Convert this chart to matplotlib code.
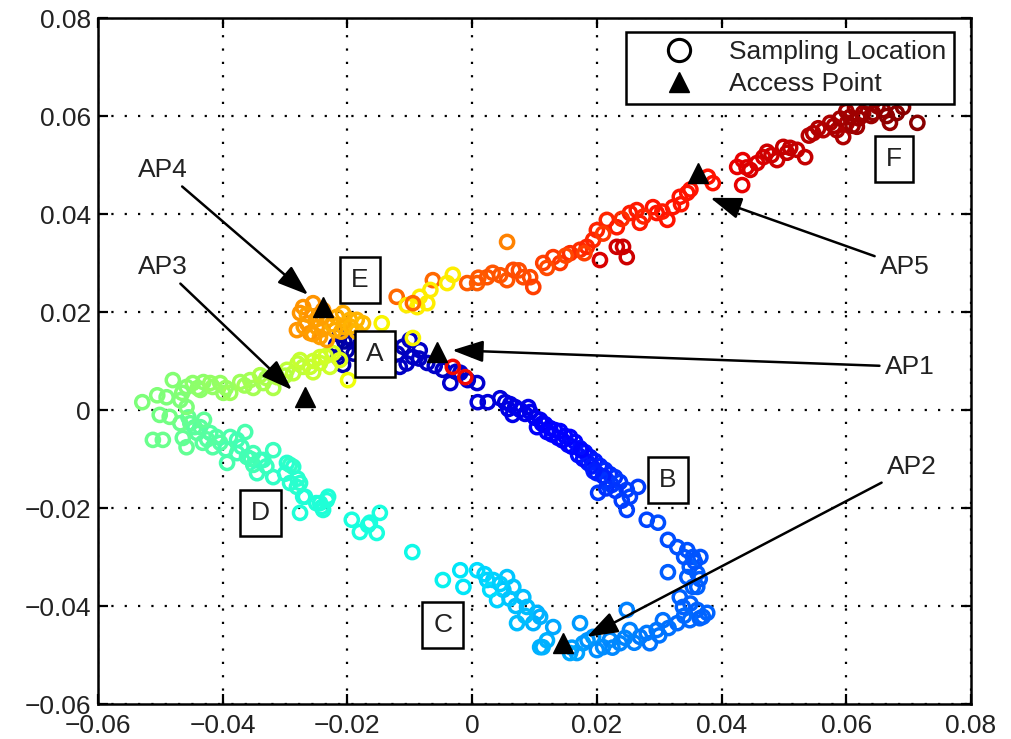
import matplotlib
matplotlib.use("Agg")
import matplotlib.pyplot as plt
from matplotlib.lines import Line2D
import numpy as np

plt.rcParams['font.family'] = ['Liberation Sans', 'DejaVu Sans']

# ---- trajectory of sampling locations (x, y, colour value along the walk) ----
x_samples = [
    # A cluster (dark blue)
    -0.0212, -0.0218, -0.0201, -0.0215, -0.0207, -0.0193, -0.0180, -0.0164, -0.0148, -0.0132,
    -0.0111, -0.0100, -0.0095, -0.0116, -0.0072, -0.0084, -0.0047, -0.0026, -0.0035, -0.0019,
    -0.0007, 0.0008, 0.0009, 0.0025,
    -0.0205, -0.0190, -0.0120, -0.0105, -0.0085, -0.0060,
    # streak A -> B
    0.0045, 0.0053, 0.0061, 0.0069, 0.0058, 0.0077, 0.0085, 0.0093, 0.0101, 0.0109,
    0.0104, 0.0117, 0.0125, 0.0133, 0.0141, 0.0138, 0.0149, 0.0157, 0.0154, 0.0165,
    0.0173, 0.0170, 0.0181, 0.0189, 0.0186, 0.0197, 0.0205, 0.0200, 0.0213, 0.0221,
    0.0216, 0.0229, 0.0224, 0.0237, 0.0202, 0.0248, 0.0266, 0.0253, 0.0248, 0.0280, 0.0298,
    0.0065, 0.0090, 0.0112, 0.0120, 0.0145, 0.0160, 0.0178, 0.0192, 0.0210, 0.0215,
    0.0230, 0.0195, 0.0175, 0.0128, 0.0240,
    # B loop
    0.0314, 0.0329, 0.0345, 0.0354, 0.0366, 0.0349, 0.0361, 0.0345, 0.0354, 0.0361,
    0.0314, 0.0333, 0.0338, 0.0361, 0.0370, 0.0377, 0.0349, 0.0329, 0.0306, 0.0296,
    0.0285, 0.0269, 0.0253, 0.0237, 0.0221, 0.0210, 0.0194, 0.0248, 0.0173, 0.0178,
    0.0168, 0.0157, 0.0109,
    0.0340, 0.0357, 0.0365, 0.0350, 0.0365, 0.0340, 0.0315, 0.0300, 0.0280, 0.0260,
    0.0245, 0.0225, 0.0200, 0.0185, 0.0160, 0.0120,
    # C
    0.0130, 0.0113, 0.0109, 0.0104, 0.0098, 0.0088, 0.0082, 0.0072, 0.0066, 0.0050,
    0.0056, 0.0040, 0.0034, 0.0024, 0.0029, 0.0008, -0.0014, -0.0019, -0.0047, -0.0096,
    0.0085, 0.0070, 0.0060, 0.0045, 0.0020,
    # cyan group
    -0.0193, -0.0180, -0.0167, -0.0153, -0.0148, -0.0164,
    # D
    -0.0233, -0.0244, -0.0239, -0.0276, -0.0271, -0.0281, -0.0292, -0.0287, -0.0297, -0.0268,
    -0.0241, -0.0231, -0.0319, -0.0319, -0.0340, -0.0345, -0.0361, -0.0377, -0.0364, -0.0393,
    -0.0388, -0.0404, -0.0416, -0.0432, -0.0441, -0.0458, -0.0464, -0.0452, -0.0512, -0.0496,
    -0.0436, -0.0420, -0.0377, -0.0351, -0.0335, -0.0292, -0.0276, -0.0351, -0.0468, -0.0485,
    -0.0501,
    -0.0300, -0.0280, -0.0250, -0.0330, -0.0355, -0.0370, -0.0395, -0.0410, -0.0425, -0.0445,
    -0.0430, -0.0455,
    # upper left light green
    -0.0529, -0.0480, -0.0490, -0.0468, -0.0458, -0.0458, -0.0448, -0.0436, -0.0431, -0.0416,
    -0.0404, -0.0399, -0.0388, -0.0372, -0.0356, -0.0351, -0.0335, -0.0319, -0.0340, -0.0313,
    -0.0287, -0.0271, -0.0255, -0.0244, -0.0228, -0.0297, -0.0276, -0.0260, -0.0223, -0.0244,
    -0.0212,
    -0.0465, -0.0440, -0.0420, -0.0395, -0.0365, -0.0330, -0.0300, -0.0280, -0.0255, -0.0235,
    -0.0505,
    # yellow
    -0.0199, -0.0145, -0.0095,
    # E cluster
    -0.0255, -0.0276, -0.0281, -0.0265, -0.0249, -0.0233, -0.0217, -0.0207, -0.0196, -0.0185,
    -0.0175, -0.0244, -0.0233, -0.0260, -0.0239, -0.0271, -0.0220, -0.0206,
    -0.0265, -0.0250, -0.0240, -0.0225, -0.0210, -0.0270, -0.0255, -0.0240, -0.0195, -0.0185,
    # E -> AP5
    -0.0121, -0.0105, -0.0088, -0.0072, -0.0084, -0.0063, -0.0040, -0.0031, -0.0067, -0.0095,
    -0.0008, 0.0008, 0.0024, 0.0033, 0.0056, 0.0066, 0.0082, 0.0093, 0.0098, 0.0114,
    0.0130, 0.0141, 0.0157, 0.0173, 0.0184, 0.0194, 0.0200, 0.0216, 0.0232, 0.0253,
    0.0264, 0.0269, 0.0290, 0.0296, 0.0313, 0.0322, 0.0333, 0.0345, 0.0056,
    0.0205, 0.0232, 0.0248, 0.0242,
    0.0010, 0.0045, 0.0075, 0.0120, 0.0150, 0.0180, 0.0210, 0.0240, 0.0275, 0.0305,
    0.0335, 0.0350,
    # AP5 -> F
    0.0378, 0.0386, 0.0425, 0.0434, 0.0433, 0.0446, 0.0457, 0.0467, 0.0473, 0.0489,
    0.0499, 0.0510, 0.0521, 0.0534, 0.0547, 0.0563, 0.0574, 0.0585, 0.0595, 0.0601,
    0.0606, 0.0617, 0.0627, 0.0643, 0.0659, 0.0670, 0.0681, 0.0691, 0.0714, 0.0635, 0.0614,
    0.0440, 0.0480, 0.0505, 0.0540, 0.0555, 0.0580, 0.0590, 0.0610, 0.0620, 0.0640,
    0.0650, 0.0600, 0.0665,
    # red points near AP1
    -0.0031, -0.0011,
]
y_samples = [
    0.0153, 0.0133, 0.0122, 0.0108, 0.0092, 0.0143, 0.0133, 0.0122, 0.0112, 0.0133,
    0.0129, 0.0143, 0.0108, 0.0088, 0.0096, 0.0122, 0.0082, 0.0078, 0.0055, 0.0076,
    0.0061, 0.0055, 0.0016, 0.0016,
    0.0140, 0.0115, 0.0115, 0.0095, 0.0105, 0.0090,
    0.0024, 0.0016, 0.0012, 0.0006, 0.0002, 0.0000, -0.0008, -0.0004, -0.0016, -0.0020,
    -0.0035, -0.0029, -0.0037, -0.0041, -0.0043, -0.0057, -0.0053, -0.0055, -0.0071, -0.0065,
    -0.0078, -0.0092, -0.0086, -0.0096, -0.0108, -0.0104, -0.0114, -0.0129, -0.0122, -0.0131,
    -0.0143, -0.0137, -0.0153, -0.0147, -0.0169, -0.0163, -0.0157, -0.0177, -0.0204, -0.0224, -0.0230,
    -0.0010, 0.0006, -0.0028, -0.0045, -0.0062, -0.0075, -0.0100, -0.0115, -0.0135, -0.0160,
    -0.0165, -0.0125, -0.0082, -0.0050, -0.0185,
    -0.0265, -0.0280, -0.0286, -0.0300, -0.0300, -0.0320, -0.0333, -0.0341, -0.0361, -0.0361,
    -0.0331, -0.0382, -0.0402, -0.0408, -0.0422, -0.0414, -0.0429, -0.0435, -0.0429, -0.0449,
    -0.0476, -0.0463, -0.0449, -0.0476, -0.0469, -0.0484, -0.0463, -0.0408, -0.0435, -0.0476,
    -0.0496, -0.0496, -0.0484,
    -0.0300, -0.0310, -0.0345, -0.0395, -0.0425, -0.0420, -0.0445, -0.0460, -0.0455, -0.0475,
    -0.0465, -0.0485, -0.0490, -0.0470, -0.0485, -0.0470,
    -0.0443, -0.0484, -0.0422, -0.0414, -0.0435, -0.0402, -0.0382, -0.0435, -0.0361, -0.0367,
    -0.0341, -0.0388, -0.0347, -0.0347, -0.0367, -0.0327, -0.0361, -0.0327, -0.0347, -0.0290,
    -0.0420, -0.0400, -0.0385, -0.0355, -0.0335,
    -0.0224, -0.0249, -0.0235, -0.0251, -0.0210, -0.0230,
    -0.0184, -0.0190, -0.0204, -0.0210, -0.0177, -0.0157, -0.0149, -0.0116, -0.0108, -0.0177,
    -0.0198, -0.0177, -0.0137, -0.0082, -0.0102, -0.0129, -0.0096, -0.0088, -0.0045, -0.0108,
    -0.0055, -0.0067, -0.0076, -0.0067, -0.0047, -0.0076, -0.0057, -0.0027, -0.0061, -0.0061,
    -0.0035, -0.0047, -0.0061, -0.0088, -0.0102, -0.0112, -0.0149, -0.0112, -0.0027, -0.0014,
    -0.0010,
    -0.0130, -0.0140, -0.0190, -0.0115, -0.0100, -0.0075, -0.0080, -0.0055, -0.0060, -0.0035,
    -0.0020, -0.0015,
    0.0016, 0.0061, 0.0026, 0.0020, 0.0006, 0.0047, 0.0055, 0.0041, 0.0057, 0.0047,
    0.0055, 0.0035, 0.0035, 0.0057, 0.0061, 0.0045, 0.0055, 0.0045, 0.0071, 0.0067,
    0.0075, 0.0088, 0.0077, 0.0096, 0.0088, 0.0082, 0.0102, 0.0088, 0.0116, 0.0108,
    0.0102,
    0.0035, 0.0045, 0.0055, 0.0045, 0.0050, 0.0065, 0.0070, 0.0095, 0.0100, 0.0110,
    0.0030,
    0.0061, 0.0177, 0.0147,
    0.0218, 0.0198, 0.0163, 0.0177, 0.0169, 0.0184, 0.0190, 0.0198, 0.0184, 0.0184,
    0.0177, 0.0149, 0.0143, 0.0157, 0.0204, 0.0210, 0.0163, 0.0169,
    0.0195, 0.0185, 0.0165, 0.0175, 0.0160, 0.0170, 0.0155, 0.0190, 0.0170, 0.0160,
    0.0231, 0.0214, 0.0210, 0.0218, 0.0231, 0.0265, 0.0259, 0.0276, 0.0245, 0.0218,
    0.0259, 0.0259, 0.0271, 0.0280, 0.0265, 0.0286, 0.0271, 0.0271, 0.0251, 0.0300,
    0.0312, 0.0300, 0.0320, 0.0327, 0.0333, 0.0347, 0.0367, 0.0388, 0.0373, 0.0402,
    0.0408, 0.0382, 0.0414, 0.0402, 0.0388, 0.0414, 0.0435, 0.0443, 0.0343,
    0.0306, 0.0333, 0.0312, 0.0333,
    0.0270, 0.0275, 0.0285, 0.0290, 0.0315, 0.0320, 0.0360, 0.0390, 0.0395, 0.0405,
    0.0420, 0.0450,
    0.0476, 0.0463, 0.0496, 0.0510, 0.0459, 0.0490, 0.0504, 0.0516, 0.0527, 0.0510,
    0.0537, 0.0535, 0.0531, 0.0516, 0.0565, 0.0571, 0.0586, 0.0571, 0.0557, 0.0586,
    0.0598, 0.0578, 0.0606, 0.0606, 0.0612, 0.0586, 0.0606, 0.0618, 0.0586, 0.0627, 0.0616,
    0.0495, 0.0520, 0.0525, 0.0560, 0.0575, 0.0580, 0.0595, 0.0580, 0.0595, 0.0600,
    0.0620, 0.0610, 0.0600,
    0.0088, 0.0067,
]
c_samples = [
    0.03, 0.03, 0.04, 0.03, 0.04, 0.04, 0.04, 0.05, 0.05, 0.05,
    0.05, 0.06, 0.06, 0.06, 0.06, 0.06, 0.06, 0.07, 0.07, 0.07,
    0.07, 0.07, 0.08, 0.08,
    0.03, 0.04, 0.055, 0.06, 0.06, 0.065,
    0.08, 0.08, 0.087, 0.087, 0.087, 0.094, 0.094, 0.094, 0.101, 0.101,
    0.109, 0.109, 0.109, 0.116, 0.116, 0.123, 0.123, 0.123, 0.13, 0.13,
    0.137, 0.137, 0.144, 0.144, 0.151, 0.151, 0.158, 0.158, 0.166, 0.166,
    0.173, 0.173, 0.18, 0.18, 0.18, 0.185, 0.185, 0.19, 0.19, 0.195, 0.20,
    0.09, 0.09, 0.105, 0.112, 0.12, 0.13, 0.14, 0.15, 0.16, 0.175,
    0.178, 0.155, 0.132, 0.112, 0.185,
    0.20, 0.205, 0.205, 0.21, 0.21, 0.215, 0.215, 0.215, 0.22, 0.22,
    0.215, 0.22, 0.22, 0.22, 0.225, 0.225, 0.23, 0.23, 0.235, 0.24,
    0.24, 0.245, 0.25, 0.255, 0.26, 0.265, 0.27, 0.25, 0.275, 0.28,
    0.285, 0.29, 0.30,
    0.21, 0.21, 0.215, 0.22, 0.225, 0.23, 0.235, 0.24, 0.245, 0.25,
    0.255, 0.26, 0.265, 0.27, 0.28, 0.30,
    0.29, 0.30, 0.30, 0.30, 0.30, 0.31, 0.31, 0.31, 0.32, 0.32,
    0.32, 0.33, 0.33, 0.33, 0.34, 0.34, 0.35, 0.35, 0.36, 0.37,
    0.31, 0.31, 0.32, 0.325, 0.335,
    0.38, 0.38, 0.38, 0.38, 0.38, 0.38,
    0.39, 0.39, 0.39, 0.39, 0.39, 0.40, 0.40, 0.40, 0.40, 0.39,
    0.39, 0.39, 0.41, 0.42, 0.42, 0.42, 0.43, 0.43, 0.44, 0.44,
    0.44, 0.45, 0.45, 0.46, 0.46, 0.47, 0.47, 0.47, 0.48, 0.48,
    0.46, 0.45, 0.43, 0.43, 0.42, 0.41, 0.40, 0.43, 0.48, 0.49,
    0.49,
    0.40, 0.40, 0.39, 0.42, 0.43, 0.43, 0.44, 0.45, 0.455, 0.46,
    0.465, 0.47,
    0.50, 0.51, 0.50, 0.50, 0.50, 0.51, 0.52, 0.52, 0.52, 0.53,
    0.53, 0.53, 0.54, 0.54, 0.55, 0.55, 0.55, 0.56, 0.56, 0.57,
    0.58, 0.58, 0.59, 0.59, 0.60, 0.58, 0.59, 0.59, 0.61, 0.60,
    0.62,
    0.51, 0.52, 0.53, 0.535, 0.545, 0.555, 0.57, 0.585, 0.595, 0.605,
    0.505,
    0.64, 0.65, 0.65,
    0.75, 0.75, 0.75, 0.75, 0.74, 0.74, 0.73, 0.73, 0.72, 0.72,
    0.71, 0.74, 0.74, 0.75, 0.75, 0.75, 0.73, 0.73,
    0.74, 0.74, 0.74, 0.73, 0.73, 0.745, 0.745, 0.74, 0.72, 0.715,
    0.80, 0.66, 0.66, 0.66, 0.66, 0.80, 0.66, 0.66, 0.66, 0.80,
    0.81, 0.81, 0.82, 0.82, 0.82, 0.83, 0.83, 0.83, 0.84, 0.84,
    0.85, 0.85, 0.86, 0.86, 0.87, 0.87, 0.87, 0.87, 0.88, 0.88,
    0.88, 0.88, 0.89, 0.89, 0.89, 0.89, 0.89, 0.89, 0.77,
    0.92, 0.93, 0.93, 0.93,
    0.815, 0.82, 0.825, 0.83, 0.835, 0.84, 0.85, 0.86, 0.87, 0.88,
    0.885, 0.89,
    0.89, 0.89, 0.91, 0.91, 0.91, 0.92, 0.92, 0.92, 0.93, 0.93,
    0.94, 0.94, 0.94, 0.94, 0.95, 0.95, 0.96, 0.96, 0.96, 0.96,
    0.97, 0.97, 0.97, 0.98, 0.98, 0.98, 0.99, 0.99, 0.99, 0.98, 0.97,
    0.915, 0.93, 0.94, 0.95, 0.955, 0.96, 0.965, 0.97, 0.97, 0.975,
    0.98, 0.97, 0.985,
    0.90, 0.90,
]

# ---- access points ----
ap_names = ["AP1", "AP2", "AP3", "AP4", "AP5"]
ap_x = [-0.0056, 0.0146, -0.0268, -0.0239, 0.0362]
ap_y = [0.0118, -0.0476, 0.0026, 0.0210, 0.0484]
# label text positions and arrow tips
ap_label_x = [0.0702, 0.0705, -0.0496, -0.0496, 0.0694]
ap_label_y = [0.0088, -0.0116, 0.0292, 0.0490, 0.0292]
ap_tip_x = [-0.0032, 0.0184, -0.0289, -0.0263, 0.0382]
ap_tip_y = [0.0122, -0.0463, 0.0041, 0.0235, 0.0433]

# ---- region labels ----
region_names = ["A", "B", "C", "D", "E", "F"]
region_x = [-0.0156, 0.0314, -0.0047, -0.0340, -0.0180, 0.0677]
region_y = [0.0114, -0.0143, -0.0439, -0.0210, 0.0265, 0.0512]

x_ticks = [-0.06, -0.04, -0.02, 0, 0.02, 0.04, 0.06, 0.08]
x_tick_labels = ["\u22120.06", "\u22120.04", "\u22120.02", "0", "0.02", "0.04", "0.06", "0.08"]
y_ticks = [-0.06, -0.04, -0.02, 0, 0.02, 0.04, 0.06, 0.08]
y_tick_labels = ["\u22120.06", "\u22120.04", "\u22120.02", "0", "0.02", "0.04", "0.06", "0.08"]

FS = 19

fig = plt.figure(figsize=(10.12, 7.39), dpi=100)
ax = fig.add_axes([98 / 1012, 1 - 704 / 739, 873 / 1012, 686 / 739])

edge_cols = plt.get_cmap("jet")(np.array(c_samples))
ax.scatter(x_samples, y_samples, marker="o", s=90, facecolors="none",
           edgecolors=edge_cols, linewidths=2.5, zorder=3)

ax.plot(ap_x, ap_y, linestyle="none", marker="^", markersize=14,
        color="black", zorder=5)

for name, lx, ly, tx, ty in zip(ap_names, ap_label_x, ap_label_y, ap_tip_x, ap_tip_y):
    ax.annotate(name, xy=(tx, ty), xytext=(lx, ly), fontsize=FS, color="#222222",
                ha="center", va="center", zorder=6,
                arrowprops=dict(arrowstyle="-|>,head_length=1.0,head_width=0.35",
                                color="black", lw=1.8, shrinkA=2, shrinkB=0))

for name, rx, ry in zip(region_names, region_x, region_y):
    ax.text(rx, ry, name, fontsize=FS, color="#222222", ha="center", va="center",
            zorder=7,
            bbox=dict(boxstyle="square,pad=0.42", facecolor="white",
                      edgecolor="black", linewidth=1.8))

ax.set_xlim(-0.06, 0.08)
ax.set_ylim(-0.06, 0.08)
ax.set_xticks(x_ticks)
ax.set_xticklabels(x_tick_labels)
ax.set_yticks(y_ticks)
ax.set_yticklabels(y_tick_labels)
ax.tick_params(direction="in", length=7, width=1.6, labelsize=FS,
               labelcolor="#222222", top=True, right=True, pad=5)
ax.tick_params(axis="x", pad=7)
for sp in ax.spines.values():
    sp.set_linewidth(1.8)
ax.grid(True, color="black", linestyle=(0, (1, 5)), linewidth=1.6)
ax.set_axisbelow(True)

handles = [
    Line2D([], [], linestyle="none", marker="o", markersize=16,
           markerfacecolor="none", markeredgecolor="black", markeredgewidth=2.2),
    Line2D([], [], linestyle="none", marker="^", markersize=14, color="black"),
]
leg = ax.legend(handles, ["Sampling Location", "Access Point"], loc="upper right",
                bbox_to_anchor=(0.9805, 0.9796), fontsize=FS, frameon=True,
                fancybox=False, framealpha=1, edgecolor="black",
                handlelength=3.4, handletextpad=0.2, labelspacing=0.3,
                borderpad=0.3, borderaxespad=0)
leg.get_frame().set_linewidth(1.8)
leg.set_zorder(10)
for t in leg.get_texts():
    t.set_color("#222222")

fig.savefig("out.png", dpi=100, facecolor="white")
